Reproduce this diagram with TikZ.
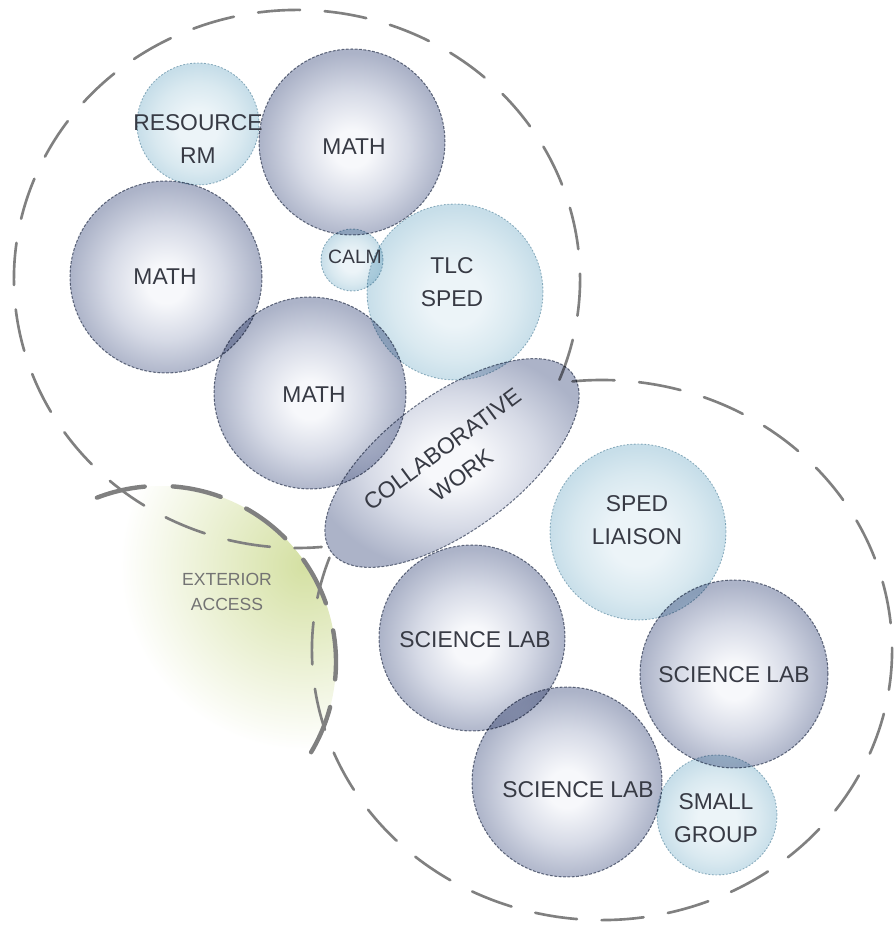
\documentclass[tikz,border=0pt]{standalone}
\usepackage{fontspec}
\setmainfont{Liberation Sans}
\usetikzlibrary{shapes.geometric}
\definecolor{dkA}{RGB}{247,248,251}
\definecolor{dkB}{RGB}{214,218,230}
\definecolor{dkC}{RGB}{172,179,200}
\definecolor{ltA}{RGB}{236,244,248}
\definecolor{ltB}{RGB}{217,233,240}
\definecolor{ltC}{RGB}{199,222,233}
\definecolor{dkline}{RGB}{115,123,140}
\definecolor{ltline}{RGB}{155,184,198}
\definecolor{extG}{RGB}{212,224,162}
\definecolor{txt}{RGB}{55,58,68}
\definecolor{bigline}{RGB}{128,128,128}
\pgfdeclareradialshading{darkball}{\pgfpoint{0bp}{-2bp}}{color(0bp)=(dkA); color(5bp)=(dkA); color(15bp)=(dkB); color(25bp)=(dkC); color(50bp)=(dkC)}
\pgfdeclareradialshading{lightball}{\pgfpoint{0bp}{-2bp}}{color(0bp)=(ltA); color(8bp)=(ltA); color(18bp)=(ltB); color(25bp)=(ltC); color(50bp)=(ltC)}
\pgfdeclareradialshading{extfade}{\pgfpoint{0bp}{0bp}}{color(0bp)=(extG); color(25bp)=(white); color(50bp)=(white)}
\tikzset{
  room/.style={circle, inner sep=0pt, minimum size=#1},
  dkroom/.style={room=#1, shading=darkball, draw=dkline, line width=0.6pt, dash pattern=on 1.6pt off 0.9pt},
  ltroom/.style={room=#1, shading=lightball, draw=ltline, line width=0.5pt, dash pattern=on 1pt off 1pt},
  lbl/.style={font=\fontsize{13}{18.5}\selectfont, text=txt, align=center, inner sep=0pt},
  smalllbl/.style={font=\fontsize{11}{14}\selectfont, text=txt, align=center, inner sep=0pt},
  extlbl/.style={font=\fontsize{10}{14}\selectfont, text=black!55, align=center, inner sep=0pt},
  bigdash/.style={draw=bigline, line width=1.5pt, dash pattern=on 24pt off 14pt, line cap=round},
  extdash/.style={draw=black!50, line width=2.5pt, dash pattern=on 28pt off 16pt, line cap=round},
}
\begin{document}
\begin{tikzpicture}[x=0.02cm, y=0.02cm]
\useasboundingbox (0,0) rectangle (896,927);
% exterior access glow
\begin{scope}
  \clip (160,265) circle (176);
  \shade[shading=extfade] (305,362) circle (185);
\end{scope}
% zone outlines
\draw[bigdash] (297,648) ++(-22:283 and 269) arc[start angle=-22, end angle=275, x radius=283, y radius=269];
\draw[bigdash] (602,277) ++(160:290 and 270) arc[start angle=160, end angle=458, x radius=290, y radius=270];
\draw[extdash] (160,265) ++(111:176) arc[start angle=111, end angle=-37, radius=176];
% rooms
\begin{scope}[blend mode=multiply]
  \node[ltroom=2.44cm] (res) at (198,803) {};
  \node[dkroom=3.72cm] (mathA) at (352,785) {};
  \node[dkroom=3.84cm] (mathB) at (166,650) {};
  \node[ltroom=1.24cm] (calm) at (352,667) {};
  \node[ltroom=3.52cm] (tlc) at (455,635) {};
  \node[dkroom=3.84cm] (mathC) at (310,534) {};
  \node[ellipse, inner sep=0pt, minimum width=6cm, minimum height=2.7cm, rotate=36.5,
        shading=darkball, draw=dkline, line width=0.6pt, dash pattern=on 1.6pt off 0.9pt] (collab) at (452,464) {};
  \node[ltroom=3.52cm] (liaison) at (638,395) {};
  \node[dkroom=3.72cm] (sciA) at (472,289) {};
  \node[dkroom=3.76cm] (sciB) at (734,253) {};
  \node[dkroom=3.80cm] (sciC) at (567,145) {};
  \node[ltroom=2.40cm] (small) at (717,112) {};
\end{scope}
% labels
\node[lbl] (res-t) at (198,788) {RESOURCE\\RM};
\node[lbl] (mathA-t) at (354,780) {MATH};
\node[lbl] (mathB-t) at (165,650) {MATH};
\node[smalllbl] (calm-t) at (355,670) {CALM};
\node[lbl] (tlc-t) at (452,645) {TLC\\SPED};
\node[lbl] (mathC-t) at (314,532) {MATH};
\node[lbl, rotate=36.5] (collab-t) at (452,465) {COLLABORATIVE\\WORK};
\node[lbl] (liaison-t) at (637,407) {SPED\\LIAISON};
\node[lbl] (sciA-t) at (475,287) {SCIENCE LAB};
\node[lbl] (sciB-t) at (734,252) {SCIENCE LAB};
\node[lbl] (sciC-t) at (578,137) {SCIENCE LAB};
\node[lbl] (small-t) at (716,109) {SMALL\\GROUP};
\node[extlbl] (ext-t) at (227,335) {EXTERIOR\\ACCESS};
\end{tikzpicture}
\end{document}
